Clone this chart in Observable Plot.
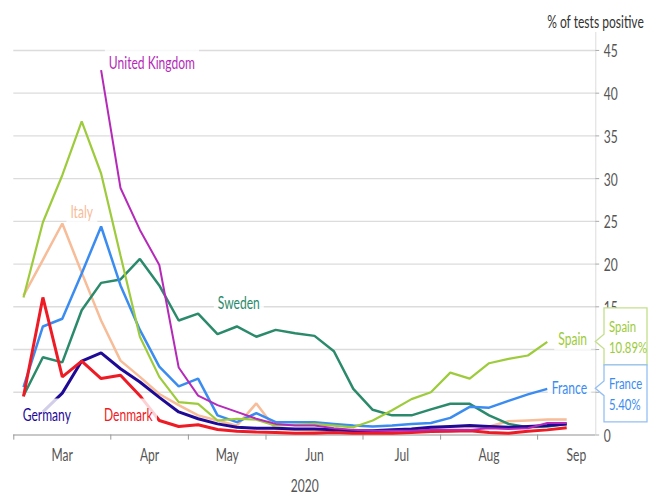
<!DOCTYPE html>
<html><head><meta charset="utf-8">
<script src="https://cdn.jsdelivr.net/npm/d3@7"></script>
<script src="https://cdn.jsdelivr.net/npm/@observablehq/plot@0.6"></script>
<style>body{margin:0;background:#fff;} svg{display:block}</style>
</head><body><div id="chart"></div>
<script>
// week index 0..28 (weekly data, Feb/Mar to Sep 2020)
const monthNames = ["Mar","Apr","May","Jun","Jul","Aug","Sep"];
const monthCenters = [2, 6.5, 10.5, 15, 19.5, 24, 28.5];
const monthBoundaries = [-0.5, 4.5, 8.5, 12.5, 17.5, 21.5, 26.5];
const yTicks = [0,5,10,15,20,25,30,35,40,45];

const spain   = [16.1,24.9,30.4,36.7,30.6,21.0,11.5,6.8,3.85,3.65,1.7,1.9,1.8,1.1,1.2,1.3,1.1,0.9,1.7,2.9,4.2,5.0,7.3,6.6,8.4,8.9,9.3,10.89];
const france  = [5.6,12.7,13.6,18.9,24.4,17.5,12.3,8.0,5.7,6.6,2.3,1.5,2.55,1.5,1.5,1.5,1.3,1.1,1.0,1.1,1.3,1.4,2.0,3.3,3.2,4.0,4.75,5.4];
const italy   = [16.3,20.5,24.75,19.0,13.4,8.7,6.8,4.8,3.5,2.3,1.7,1.1,3.7,0.7,0.6,0.5,0.5,0.4,0.4,0.5,0.6,0.8,1.0,1.0,1.0,1.6,1.7,1.8,1.8];
const uk      = [null,null,null,null,42.7,28.9,24.0,19.9,7.9,4.6,3.5,2.7,1.9,1.3,1.1,1.1,0.8,0.6,0.5,0.5,0.5,0.6,0.6,0.6,0.8,0.7,0.8,1.4,1.4];
const sweden  = [4.6,9.1,8.5,14.6,17.8,18.2,20.6,17.5,13.4,14.2,11.8,12.7,11.5,12.3,11.9,11.6,9.8,5.4,2.95,2.3,2.3,3.0,3.65,3.65,2.3,1.3,0.9,1.0,1.3];
const germany = [null,2.7,4.9,8.65,9.6,7.75,6.2,4.4,2.7,1.9,1.3,0.9,0.8,0.8,0.7,0.7,0.6,0.5,0.5,0.6,0.7,0.9,1.0,1.1,1.0,0.9,1.0,1.1,1.3];
const denmark = [4.5,16.1,6.8,8.65,6.6,7.0,4.6,1.7,1.0,1.2,0.65,0.45,0.35,0.3,0.2,0.2,0.3,0.2,0.2,0.2,0.3,0.4,0.45,0.5,0.3,0.2,0.45,0.6,0.85];

const countries = ["Italy","Sweden","France","Germany","Denmark","Spain","United Kingdom"];
const seriesValues = [italy, sweden, france, germany, denmark, spain, uk];
const colors = ["#f7bc98","#2b8a6b","#3b8cf0","#1f0a96","#ee1a24","#9dcb3c","#b52ab8"];
const widths = [2.5, 2.5, 2.5, 3, 3, 2.2, 2];

// line labels (annotation anchors in data space)
const labelNames   = ["United Kingdom","Italy","Sweden","Germany","Denmark","Spain","France"];
const labelWeeks   = [4.4, 3.0, 11.1, 1.2, 5.4, 29.05, 29.05];
const labelValues  = [43.5, 26.0, 15.4, 2.3, 2.3, 11.2, 5.45];
const labelAnchors = ["start","middle","middle","middle","middle","end","end"];

const boxColors = {Spain: "#c3df8c", France: "#94bff3"};
const SX = 0.71; // horizontal text compression (condensed face)

const rows = [];
countries.forEach((c, i) => seriesValues[i].forEach((v, w) => { if (v != null) rows.push({country: c, week: w, value: v}); }));
const labels = labelNames.map((n, i) => ({name: n, week: labelWeeks[i], value: labelValues[i], anchor: labelAnchors[i]}));

const lineMarks = countries.map((c, i) =>
  Plot.line(rows.filter(r => r.country === c), {x: "week", y: "value", stroke: "country", strokeWidth: widths[i], strokeLinejoin: "miter", strokeLinecap: "butt"})
);
const labelMarks = ["start","middle","end"].map(a =>
  Plot.text(labels.filter(l => l.anchor === a), {x: "week", y: "value", text: "name", fill: "name", textAnchor: a, fontSize: 17})
);

const chart = Plot.plot({
  width: 650, height: 500,
  marginLeft: 13.3, marginRight: 54.7, marginTop: 32, marginBottom: 65.5,
  x: {type: "linear", domain: [-0.5, 29.5], axis: null},
  y: {domain: [0, 47.1], axis: null},
  color: {domain: [...countries, "France"], range: [...colors, "#3b8cf0"]},
  style: {fontFamily: "Lato, sans-serif", fontSize: "17px", background: "white", color: "#444", overflow: "visible"},
  marks: [
    Plot.ruleY(yTicks.filter(d => d > 0), {stroke: "#dcdcdc", strokeWidth: 1.4}),
    Plot.ruleX([29.5], {stroke: "#dcdcdc", strokeWidth: 1}),
    Plot.ruleY(yTicks, {x1: 29.5, x2: 29.7, stroke: "#aaa"}),
    Plot.ruleY([0], {stroke: "#c8c8c8", strokeWidth: 1.8}),
    Plot.ruleX(monthBoundaries, {y1: 0, y2: -0.6, stroke: "#999"}),
    Plot.text(yTicks, {x: 29.5, y: d => d, text: d => String(d), dx: 8, dy: 1.5, textAnchor: "start", fill: "#555", fontSize: 17}),
    Plot.text(monthNames, {x: (d, i) => monthCenters[i], y: 0, text: d => d, dy: 21, fill: "#555", fontSize: 17}),
    Plot.text(["2020"], {x: 14.5, y: 0, text: d => d, dy: 52, fill: "#555", fontSize: 17}),
    Plot.text(["% of tests positive"], {frameAnchor: "top-right", text: d => d, dx: 48, dy: -10, textAnchor: "end", lineAnchor: "middle", fill: "#333", fontSize: 17}),
    ...lineMarks,
    ...labelMarks
  ]
});
document.getElementById("chart").appendChild(chart);

// condensed type: compress all text horizontally around its anchor
function condense(t) {
  const x = +t.getAttribute("x") || 0, y = +t.getAttribute("y") || 0;
  const tr = t.getAttribute("transform") || "";
  t.setAttribute("transform", `${tr} translate(${x},${y}) scale(${SX},1) translate(${-x},${-y})`);
}
chart.querySelectorAll("text").forEach(condense);

// semi-transparent white boxes behind the line labels
chart.querySelectorAll("text").forEach(t => {
  if (!labelNames.includes(t.textContent)) return;
  const b = t.getBBox();
  const r = document.createElementNS("http://www.w3.org/2000/svg", "rect");
  r.setAttribute("x", b.x - 4 / SX); r.setAttribute("y", b.y - 5);
  r.setAttribute("width", b.width + 8 / SX); r.setAttribute("height", b.height + 7);
  r.setAttribute("fill", "white"); r.setAttribute("fill-opacity", 0.8); r.setAttribute("stroke", "none");
  r.setAttribute("transform", t.getAttribute("transform") || "");
  t.parentNode.insertBefore(r, t);
});

// callout boxes for Spain and France at the right edge
const xS = chart.scale("x"), yS = chart.scale("y");
const fx = d3.scaleLinear(xS.domain, xS.range), fy = d3.scaleLinear(yS.domain, yS.range);
const callouts = [
  {name: "Spain", value: spain[spain.length - 1], color: colors[countries.indexOf("Spain")]},
  {name: "France", value: france[france.length - 1], color: colors[countries.indexOf("France")]}
].map(d => ({...d, vy: fy(d.value), cy: fy(d.value)})).sort((a, b) => a.vy - b.vy);
const boxH = 57;
for (let i = 1; i < callouts.length; i++) {
  const a = callouts[i - 1], b = callouts[i];
  if (b.cy - a.cy < boxH) { const m = (a.cy + b.cy) / 2; a.cy = m - boxH / 2; b.cy = m + boxH / 2; }
}

// y tick labels that sit entirely behind a callout box are hidden in the original: drop them
callouts.forEach(d => {
  const top = d.cy - boxH / 2, bot = d.cy + boxH / 2;
  yTicks.forEach(v => {
    const py = fy(v);
    if (py - 8 > top && py + 8 < bot) {
      chart.querySelectorAll("text").forEach(t => {
        if (t.textContent === String(v) && t.getBoundingClientRect().left > fx(29.5)) t.remove();
      });
    }
  });
});

const tipX = fx(29.5), x0 = tipX + 8.7, x1 = x0 + 43;
const g = d3.select(chart).append("g").attr("text-anchor", "start");
callouts.forEach(d => {
  const top = d.cy - boxH / 2, bot = d.cy + boxH / 2;
  g.append("path")
    .attr("d", `M${x0},${top}H${x1}V${bot}H${x0}V${d.vy + 7.3}L${tipX},${d.vy}L${x0},${d.vy - 7.3}Z`)
    .attr("fill", "white").attr("stroke", boxColors[d.name]).attr("stroke-width", 1.3);
  g.append("text").attr("x", x0 + 5).attr("y", top + 19).attr("dy", "0.35em")
    .attr("fill", d.color).attr("font-size", 16).text(d.name).each(function() { condense(this); });
  g.append("text").attr("x", x0 + 5).attr("y", top + 40).attr("dy", "0.35em")
    .attr("fill", d.color).attr("font-size", 16).text(d.value.toFixed(2) + "%").each(function() { condense(this); });
});
</script>
</body></html>
